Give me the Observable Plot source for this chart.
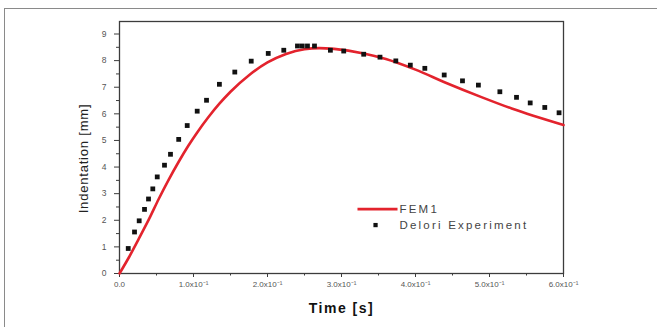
<!DOCTYPE html>
<html>
<head>
<meta charset="utf-8">
<script src="https://cdn.jsdelivr.net/npm/d3@7"></script>
<script src="https://cdn.jsdelivr.net/npm/@observablehq/plot@0.6"></script>
<style>
  html, body { margin: 0; padding: 0; background: #fff; overflow: hidden; }
  #wrap { position: relative; width: 657px; height: 327px; }
  #border { position: absolute; left: 4px; top: 8px; width: 653px; height: 319px;
            border-top: 1px solid #8a8a8a; border-left: 1px solid #8a8a8a; box-sizing: border-box; }
  #chart { position: absolute; left: 0; top: 0; }
</style>
</head>
<body>
<div id="wrap"><div id="border"></div><div id="chart"></div></div>
<script>
// Delori Experiment (squares)
const expTime = [0.0118,0.0203,0.0266,0.0338,0.0392,0.045,0.051,0.0608,0.0689,0.080,0.0915,0.105,0.1176,0.135,0.1558,0.178,0.201,0.222,0.2405,0.247,0.254,0.2635,0.285,0.303,0.330,0.352,0.3734,0.393,0.4126,0.4388,0.4635,0.485,0.514,0.5365,0.555,0.5747,0.594];
const expIndentation = [0.94,1.56,1.98,2.41,2.80,3.18,3.63,4.07,4.48,5.04,5.56,6.10,6.51,7.11,7.57,7.98,8.27,8.39,8.55,8.55,8.55,8.55,8.39,8.36,8.24,8.13,7.99,7.83,7.71,7.46,7.24,7.08,6.83,6.62,6.41,6.24,6.04];

// FEM1 (red line)
const femTime = [0,0.013,0.026,0.04,0.053,0.066,0.08,0.093,0.105,0.12,0.135,0.15,0.175,0.2,0.225,0.25,0.27,0.29,0.33,0.36,0.4,0.44,0.49,0.53,0.6];
const femIndentation = [0,0.62,1.3,2.05,2.8,3.5,4.2,4.8,5.3,5.87,6.38,6.83,7.45,7.93,8.25,8.43,8.47,8.44,8.27,8.06,7.66,7.18,6.62,6.2,5.58];

// Axis ticks and labels
const xTicks = [0,0.1,0.2,0.3,0.4,0.5,0.6];
const xTickLabels = ["0.0","1.0x10\u207B\u00B9","2.0x10\u207B\u00B9","3.0x10\u207B\u00B9","4.0x10\u207B\u00B9","5.0x10\u207B\u00B9","6.0x10\u207B\u00B9"];
const xMinorTicks = [0.05,0.15,0.25,0.35,0.45,0.55];
const yTicks = [0,1,2,3,4,5,6,7,8,9];
const yMinorTicks = [0.5,1.5,2.5,3.5,4.5,5.5,6.5,7.5,8.5];

const seriesNames = ["FEM1","Delori Experiment"];
const xTitle = "Time [s]";
const yTitle = "Indentation [mm]";

const expData = expTime.map((t,i) => ({t, v: expIndentation[i]}));
const femData = femTime.map((t,i) => ({t, v: femIndentation[i]}));

// legend anchor (data units)
const legLineX1 = 0.3216, legLineX2 = 0.3757, legTextX = 0.3784, legSquareX = 0.346;
const legY1 = 2.42, legY2 = 1.82;

const red = "#e3232d";
const axisColor = "#3c3c3c";
const labelColor = "#555";

const plot = Plot.plot({
  width: 657,
  height: 327,
  marginLeft: 119,
  marginRight: 94,
  marginTop: 21,
  marginBottom: 54,
  style: { fontFamily: "Liberation Sans, Arial, sans-serif", background: "transparent", overflow: "visible" },
  x: { domain: [0, 0.6] },
  y: { domain: [0, 9.47] },
  marks: [
    Plot.frame({ stroke: axisColor, strokeWidth: 1.3 }),
    Plot.axisX({ ticks: xTicks, tickSize: 4, tickPadding: 4, fontSize: 8, stroke: axisColor, color: labelColor,
                 tickFormat: d => xTickLabels[xTicks.indexOf(d)], label: null }),
    Plot.axisX({ ticks: xMinorTicks, tickSize: 2.5, text: null, stroke: axisColor, label: null }),
    Plot.axisY({ ticks: yTicks, tickSize: 5, tickPadding: 8, fontSize: 8.5, stroke: axisColor, color: labelColor,
                 tickFormat: d => String(d), label: null }),
    Plot.axisY({ ticks: yMinorTicks, tickSize: 3, text: null, stroke: axisColor, label: null }),
    Plot.line(femData, { x: "t", y: "v", stroke: red, strokeWidth: 2.6, curve: "monotone-x" }),
    Plot.dot(expData, { x: "t", y: "v", symbol: "square", r: 2.7, fill: "#111", stroke: "none" }),
    // legend
    Plot.link([seriesNames[0]], { x1: legLineX1, x2: legLineX2, y1: legY1, y2: legY1, stroke: red, strokeWidth: 2.6 }),
    Plot.dot([seriesNames[1]], { x: legSquareX, y: legY2, symbol: "square", r: 2.4, fill: "#111", stroke: "none" }),
    Plot.text(seriesNames, { x: legTextX, y: (d, i) => i === 0 ? legY1 : legY2, text: d => d, textAnchor: "start",
                             fontSize: 11.5, fill: "#444" }),
    // titles
    Plot.text([xTitle], { frameAnchor: "bottom", dy: 39, text: d => d, fontSize: 14, fontWeight: "bold",
                          fill: "#111", textAnchor: "middle" }),
    Plot.text([yTitle], { frameAnchor: "left", dx: -36, dy: 11, rotate: -90, text: d => d, fontSize: 13,
                          fill: "#222", textAnchor: "middle" })
  ]
});

// letter spacing for the wide-looking lettering of the original
d3.select(plot).selectAll("text").each(function() {
  const t = this.textContent;
  if (seriesNames.includes(t)) this.style.letterSpacing = "2.2px";
  else if (t === xTitle) this.style.letterSpacing = "1.5px";
  else if (t === yTitle) this.style.letterSpacing = "0.8px";
});
document.getElementById("chart").appendChild(plot);
</script>
</body>
</html>
